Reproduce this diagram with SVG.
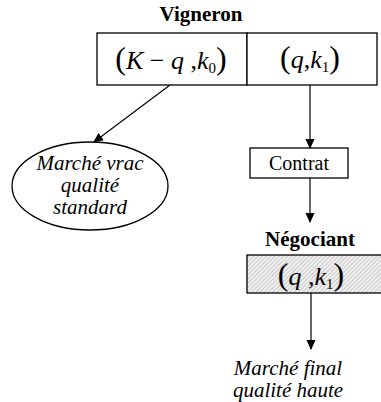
<svg xmlns="http://www.w3.org/2000/svg" width="381" height="402" viewBox="0 0 381 402" font-family="'Times New Roman', 'Liberation Serif', Tinos, 'Noto Serif', 'DejaVu Serif', serif">
<defs>
<style>
text{font-family:'Times New Roman','Liberation Serif',Tinos,'Noto Serif','DejaVu Serif',serif;fill:#000}
.box{fill:#fff;stroke:#000;stroke-width:1.3}
.b{font-weight:bold;font-size:21px}
.i{font-style:italic;font-size:21px}
.m{font-style:italic;font-size:26px}
.p{font-size:32px}
.line{stroke:#000;stroke-width:1.2;fill:none}
</style>
<marker id="ah" markerWidth="10" markerHeight="10" refX="9" refY="5" orient="auto" markerUnits="userSpaceOnUse">
<path d="M0,0.5 L10,5 L0,9.5 Z" fill="#000"/>
</marker>
<pattern id="hatch" width="3" height="3" patternUnits="userSpaceOnUse" patternTransform="rotate(45)">
<rect width="3" height="3" fill="#f0f0f0"/>
<line x1="0" y1="0" x2="0" y2="3" stroke="#999" stroke-width="0.9"/>
</pattern>
</defs>
<rect width="381" height="402" fill="#fff"/>
<g id="vigneron">
<text class="b" x="201" y="21" text-anchor="middle">Vigneron</text>
<rect class="box" x="97" y="33" width="150" height="52"/>
<rect class="box" x="247" y="33" width="130" height="52"/>
<text x="171" y="69" text-anchor="middle"><tspan class="p">(</tspan><tspan class="m">K</tspan><tspan font-size="26"> − </tspan><tspan class="m">q</tspan><tspan font-size="26"> ,</tspan><tspan class="m">k</tspan><tspan font-size="15" dy="4">0</tspan><tspan class="p" dy="-4">)</tspan></text>
<text x="310" y="68" text-anchor="middle"><tspan class="p">(</tspan><tspan class="m">q</tspan><tspan font-size="26">,</tspan><tspan class="m">k</tspan><tspan font-size="15" dy="4">1</tspan><tspan class="p" dy="-4">)</tspan></text>
</g>
<g id="marche-vrac">
<ellipse cx="90" cy="186" rx="78" ry="44" fill="#fff" stroke="#000" stroke-width="1.3"/>
<text class="i" x="90" y="170" text-anchor="middle">Marché vrac</text>
<text class="i" x="90" y="192" text-anchor="middle">qualité</text>
<text class="i" x="90" y="214" text-anchor="middle">standard</text>
</g>
<g id="contrat">
<rect class="box" x="250" y="148" width="98" height="30"/>
<text x="299" y="170" text-anchor="middle" font-size="20">Contrat</text>
</g>
<g id="negociant">
<text class="b" x="310" y="246" text-anchor="middle">Négociant</text>
<rect x="247" y="255" width="140" height="38" fill="url(#hatch)" stroke="#000" stroke-width="1.3"/>
<text x="311" y="285" text-anchor="middle"><tspan class="p">(</tspan><tspan class="m">q</tspan><tspan font-size="26"> ,</tspan><tspan class="m">k</tspan><tspan font-size="15" dy="4">1</tspan><tspan class="p" dy="-4">)</tspan></text>
</g>
<g id="marche-final">
<text class="i" x="288" y="375" text-anchor="middle">Marché final</text>
<text class="i" x="288" y="397" text-anchor="middle">qualité haute</text>
</g>
<g id="connectors">
<line class="line" x1="170" y1="85" x2="94" y2="142" marker-end="url(#ah)"/>
<line class="line" x1="310" y1="85" x2="310" y2="148" marker-end="url(#ah)"/>
<line class="line" x1="310" y1="178" x2="310" y2="222" marker-end="url(#ah)"/>
<line class="line" x1="311" y1="293" x2="311" y2="349" marker-end="url(#ah)"/>
</g>
</svg>
